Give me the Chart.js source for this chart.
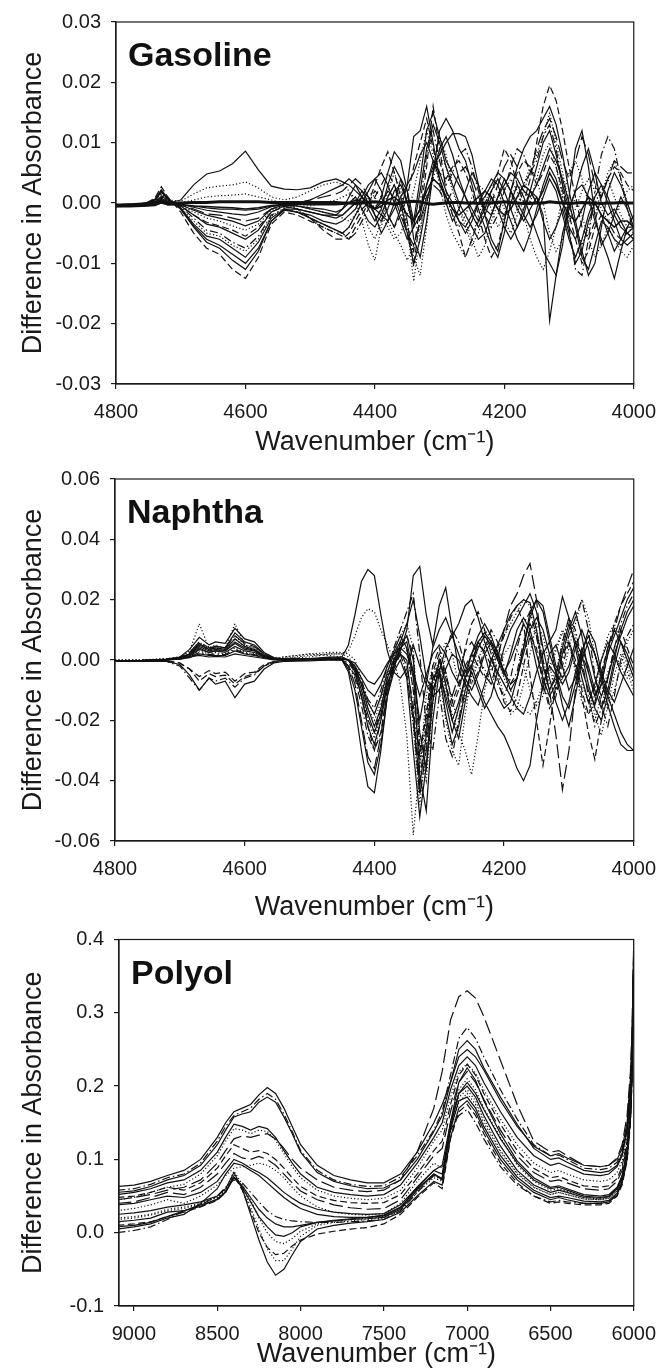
<!DOCTYPE html>
<html>
<head>
<meta charset="utf-8">
<script src="https://cdn.jsdelivr.net/npm/chart.js@4"></script>
<style>
  body { margin: 0; background: #fff; }
  canvas { position: absolute; left: 0; }
</style>
</head>
<body>
<canvas id="gas" width="667" height="470" style="top:0px"></canvas>
<canvas id="nap" width="667" height="485" style="top:450px"></canvas>
<canvas id="pol" width="667" height="461" style="top:910px"></canvas>
<script>
// all y values are in units of 0.001 absorbance

// ---- Gasoline ----
var gasX = [4800,4780,4760,4740,4730,4720,4700,4680,4660,4640,4620,4600,4580,4560,4540,4520,4500,4480,4460,
  4450,4440,4430,4420,4410,4400,4390,4380,4370,4360,4350,4340,4330,4320,4310,4300,4290,4280,4270,4260,
  4250,4240,4230,4220,4210,4200,4190,4180,4170,4160,4150,4140,4130,4120,4110,4100,4090,4080,4070,4060,
  4050,4040,4030,4020,4010,4000];
var gas1 = [-0.3,-0.3,-0.2,0.2,0.3,0,0.5,3,4.8,5.3,6.5,8.6,5.5,2.8,2.3,2.2,2.5,3.5,4,
  3.5,3,2,1,0,-1,1,5,8.5,7,2,-3,-1,3,6,8,10,11.5,11.5,11,8,3,-1,-2,1,4,2,-1,-3,-1,1,-2,-19.5,-12,-5,-1,2,3,1,-3,-6,-9,-12.5,-8,-4,-2];
var gas2 = [-0.5,-0.4,-0.3,0.5,1.5,0.5,0.3,1.5,2.5,2.8,3,3.5,2.5,1,0.5,1,2,3,3.5,
  3,2,0,-3,-7,-9.5,-4,1,3,1,-4,-13,-5,2,4,3,1,-2,-4,-2,1,3,2,-1,-4,-2,1,3,2,0,4,8,10,6,1,-3,-1,2,4,2,-1,-3,-2,0,2,3];
var gas3 = [-0.6,-0.5,-0.4,0.8,2.7,1,-1.5,-5,-7.5,-8.5,-11,-12.5,-9,-3.5,-1.5,-2,-3,-4,-5,
  -5.5,-6,-4,-2,0,3,6,8.5,5,1,-3,-10.5,-2,6,16,9,2,-2,-5,-9,-6,-3,0,2,5,9,7,3,0,4,10,16,19.5,17,12,6,1,-4,-6,-3,1,4,6,5,3,2];
var gas4 = [-0.5,-0.5,-0.3,0.6,2.2,0.8,-1,-4,-6.5,-7.5,-9.5,-11,-8,-3,-1,-1.5,-2,-3,-3.5,
  -3,-2,-1,1,3,4,2,-2,-4,-1,3,11,12,16,10,4,0,-3,-1,2,5,3,-2,-6,-8,-3,2,6,9,11,12,14,16,13,8,2,-3,-8,-12,-10,-4,2,5,3,0,-3];
var gas5 = [-0.4,-0.4,-0.2,0.4,1.8,0.6,-0.8,-3.5,-5.5,-6,-7.5,-9,-6.5,-2.5,-1,-1,-1.5,-2,-2.5,
  -2,-1,0,2,1,-2,-5,-3,0,4,2,-6,-9,-3,5,12,14,12,9,7,3,-1,-4,-7,-9,-5,0,3,1,-2,-5,-8,-10,-12,-7,1,9,12,6,-2,-7,-5,-2,1,-1,-4];
var gas6 = [-0.4,-0.3,-0.2,0.3,1.2,0.4,-0.6,-2.5,-4.5,-5,-6.5,-7.5,-5.5,-2,-1,-1.5,-2.5,-3.5,-4.5,
  -5,-6,-5,-3,-1,1,3,5,3,-1,-5,-8,0,8,12,7,3,5,8,9,6,2,-2,-4,-2,2,6,9,8,5,7,11,13,9,3,-4,-11,-12,-6,2,8,11,9,4,-1,-5];
var gas7 = [-0.3,-0.3,-0.1,0.2,0.8,0.2,-0.5,-2,-3.5,-4,-5,-6,-4.5,-1.5,-0.5,-1,-1.5,-2,-2,
  -1,1,3,2,0,-2,-3,-1,2,3,0,-4,-2,3,7,5,2,0,-3,-5,-3,0,2,4,3,0,-3,-6,-8,-5,-1,3,6,4,0,-4,-6,-3,2,5,3,0,-3,-6,-7,-6];
var gas8 = [-0.3,-0.2,-0.1,0.1,0.5,0,-0.4,-1.5,-2.5,-3,-3.8,-4.5,-3.5,-1.2,-0.5,-0.5,-1,-1.5,-2,
  -2.5,-3,-2,0,2,1,-1,-3,-5,-7,-9.5,-7,-4,0,4,8,6,2,-1,-3,-6,-9,-7,-3,0,2,4,2,-2,-6,-9,-11,-8,-4,1,5,7,4,0,-2,1,5,7,4,0,-3];
var gas9 = [-0.3,-0.2,0,0.1,0.3,-0.2,-0.3,-1,-1.8,-2,-2.5,-3,-2.5,-1,-0.3,0,0.5,1,1.5,
  2,3,4,3,1,-1,0,2,1,-2,-5,-7,-3,1,3,2,0,2,5,6,4,1,-1,0,3,6,8,6,3,5,9,12,14,11,7,4,7,11,8,3,1,4,7,6,5,5];
var gas10 = [-0.2,-0.2,-0.1,0,0.2,-0.3,-0.2,-0.7,-1.2,-1.5,-1.8,-2,-1.5,-0.6,-0.3,-0.5,-0.8,-1,-1.5,
  -1,0,1,-1,-3,-4,-2,1,3,0,-5,-10,-6,0,5,9,11,8,4,1,-2,-4,-2,1,-1,-4,-6,-4,-1,2,1,-3,-6,-4,-1,-5,-10,-8,-3,0,-2,-5,-8,-6,-4,-4];
var gas11 = [-0.5,-0.5,-0.5,-0.3,0,-0.3,-0.3,-0.5,-0.6,-0.7,-0.8,-1,-0.8,-0.4,-0.2,-0.2,-0.3,-0.3,-0.3,
  -0.2,0,0.5,0.3,-0.5,-1,-0.5,0.5,1,0,-2,-3,-1,2,4,3,1,-1,-2,-1,0,1,2,1,-1,-2,-1,1,3,2,0,2,5,3,0,-2,-3,-1,1,0,-2,-3,-4,-3,-3,-4];
var gas12 = [-0.5,-0.5,-0.4,-0.3,0.2,-0.1,0,0.1,0.1,0.2,0.2,0.2,0.2,0.1,0.1,0.1,0.1,0.1,0.1,
  0,0,-0.1,0,0.1,0.2,0.1,0,-0.2,0,0.2,0.3,0.2,-0.1,-0.2,-0.1,0,0.1,0.1,0,0,-0.1,0,0,0.1,0.2,0.1,0,-0.1,-0.1,0,0,0.2,0.1,0,-0.1,0,0.1,0,0,-0.1,0,0,0.1,0,0];
var gas13 = [-0.5,-0.4,-0.3,0.5,2,0.7,-1,-3.8,-6,-7,-8.5,-10,-7.5,-3,-1.2,-1.5,-2.5,-3.5,-4.5,
  -5,-4,-2,0,2,4,5,3,0,-3,-6,-4,2,9,13,10,6,3,0,-2,-4,-6,-5,-2,1,3,5,4,2,1,3,6,9,7,4,0,-4,-9,-11,-7,-3,-4,-6,-7,-6,-5];
var gas14 = [-0.4,-0.3,-0.2,0.3,1.5,0.5,-0.8,-3,-5,-5.5,-7,-8,-6,-2.2,-0.8,-0.5,-0.5,0,0.5,
  1,1.5,1,-1,-4,-6,-3,2,5,2,-3,-9,-12,-4,6,11,8,3,-1,-4,-7,-5,-1,2,0,-3,-5,-2,3,6,4,0,-5,-8,-6,-2,1,-2,-6,-9,-7,-4,-6,-8,-9,-7];
var gas15 = [-0.3,-0.3,-0.2,0.2,1,0.3,-0.5,-2,-3.2,-3.8,-4.5,-5.5,-4,-1.5,-0.6,-1,-2.5,-4.5,-6,
  -6,-5,-3,-1,0,2,1,-2,-4,-2,1,6,10,14,9,5,4,6,7,5,2,-2,-6,-9,-7,-3,2,5,7,6,3,5,8,6,2,-2,-6,-10,-8,-4,-2,-3,-5,-6,-5,-6];
var gas16 = [-0.3,-0.2,-0.1,0.1,0.6,0.1,-0.3,-1.2,-2,-2.5,-3,-3.8,-3,-1,-0.3,0,0.5,1.5,2.5,
  3,4,3,1,-1,-3,-1,3,6,4,0,-3,4,12,15,11,7,5,3,1,-1,-3,-1,2,4,2,-1,-4,-2,2,6,10,12,8,3,-1,2,6,9,5,0,-2,-1,-3,-5,-4];
var gas17 = [-0.4,-0.4,-0.3,0,0.5,-0.2,-0.3,-0.5,-0.8,-1,-1,-1.2,-1,-0.5,-0.3,-0.5,-1,-1.5,-2,
  -2,-1,0,1,0,-1,-2,-3,-1,1,3,5,8,10,7,4,1,-1,-3,-4,-2,0,1,3,5,4,2,0,-2,-4,-2,1,4,2,-2,-6,-9,-6,-2,1,3,1,-2,-4,-5,-6];
var gas18 = [-0.4,-0.3,-0.2,0.3,1,0.3,0,0.5,1,1.2,1.3,1.5,1,0.5,0,-1,-2.5,-4,-5,
  -5,-4,-2,0,1,0,-2,-4,-6,-5,-2,2,7,12,8,3,-2,-5,-7,-9,-6,-2,1,3,2,-1,-3,-1,2,5,8,11,15,10,5,0,-4,-7,-4,0,2,4,1,-2,-4,-5];
var gasXTicks = [4800, 4600, 4400, 4200, 4000];
var gasYTicks = [-0.03, -0.02, -0.01, 0, 0.01, 0.02, 0.03];

// ---- Naphtha ----
var napX = [4800,4760,4720,4700,4685,4670,4655,4645,4630,4615,4600,4585,4570,4555,4540,4500,4470,
  4450,4440,4430,4420,4410,4400,4390,4380,4370,4360,4350,4340,4330,4320,4310,4300,4290,4280,4270,4260,
  4250,4240,4230,4220,4210,4200,4190,4180,4170,4160,4150,4140,4130,4120,4110,4100,4090,4080,4070,4060,
  4050,4040,4030,4020,4010,4000];
var nap1 = [-0.5,-0.3,0,0.5,1,1.5,1,1.2,1,2,1.5,1,0.5,0,0,0.3,0.5,
  1,5,15,26,30,28,15,3,-4,-6,-3,5,-2,-8,-12,-10,-3,2,0,-6,-10,-5,2,6,3,-4,0,6,12,8,-2,-10,2,5,-2,-10,-6,3,8,2,-5,-12,-18,-24,-28,-30];
var nap2 = [0,0,0.5,1,3,12,4,5,4,12,5,4,2,0.5,0.5,1,2,
  2,3,8,14,17,16,10,5,0,-8,-25,-58,-35,-12,-2,-5,-20,-30,-35,-18,-5,0,-3,-8,-4,2,5,3,-2,-10,-15,-12,-4,3,9,5,-2,-8,-14,-20,-12,-4,1,-2,-6,-4];
var nap3 = [-0.3,-0.2,0.3,1,3.5,7.5,5,6,5.5,10.5,7,6,2.5,0.8,0.3,0.3,0.5,
  0,-4,-15,-30,-42,-44,-30,-12,-2,3,10,28,31,15,5,18,24,10,-3,-8,-12,-15,-8,0,5,10,15,18,20,19,10,-2,-10,-5,4,12,6,-3,-10,-15,-8,2,8,14,20,24];
var nap4 = [-0.4,-0.3,0,0.8,2.5,6,4,4.5,4,8,5.5,4.5,2,0.5,0.2,0.3,0.8,
  0,-2,-8,-20,-32,-36,-25,-10,-3,2,-5,-20,-45,-30,-8,0,-6,-12,-5,3,6,2,-5,-8,0,10,18,22,28,32,20,0,-10,-25,-43,-30,-10,2,-4,-12,-8,2,10,18,24,30];
var nap5 = [-0.5,-0.4,-0.5,-1.5,-5,-10,-6,-8,-7,-12.5,-8,-7,-3,-1,-0.5,-0.3,0,
  0,-3,-10,-22,-34,-38,-28,-12,-4,0,-6,-30,-52,-35,-10,-4,-12,-20,-14,-6,-2,-8,-14,-18,-22,-25,-30,-36,-40,-35,-20,-8,-2,-5,-15,-22,-12,0,6,2,-6,-15,-22,-28,-30,-30];
var nap6 = [-0.4,-0.3,-0.5,-2,-6,-10,-6,-7,-6,-9,-6,-5,-2,-0.8,-0.3,0,0.2,
  0,-2,-6,-15,-25,-30,-20,-8,0,3,-2,-15,-40,-22,-5,-10,-26,-32,-20,-8,0,5,3,-2,-8,-12,-6,4,12,16,8,-5,-15,-10,0,8,14,20,10,-5,-15,-22,-12,0,8,12];
var nap7 = [-0.3,-0.2,0.2,0.8,2,5,3.5,4,3.5,7,4.5,3.5,1.5,0.5,0.2,0.3,0.6,
  0.5,0,-3,-8,-14,-18,-12,-4,2,6,12,20,8,-6,-10,-4,4,8,2,-4,-2,4,8,5,0,-5,2,10,14,10,2,-6,-12,-8,2,10,16,8,-4,-12,-6,4,10,6,0,-6];
var nap8 = [0,0,0.3,1,2.5,6,3.5,4.5,4,8,5,4,1.5,0.5,0.5,1.5,2,
  2,1,-2,-10,-20,-26,-18,-6,0,2,-4,-22,-48,-28,-8,-2,-10,-18,-24,-30,-38,-25,-10,-2,4,8,12,16,20,18,10,0,-8,-4,6,14,8,-2,-10,-18,-25,-15,-5,2,-4,-10];
var nap9 = [-0.3,-0.2,0.2,0.6,1.5,4,2.5,3,3,5.5,3.5,3,1,0.3,0.2,0.3,0.5,
  0.5,0,-2,-6,-10,-12,-8,-2,3,8,4,-6,-20,-8,4,10,14,8,12,18,20,14,6,0,-4,-8,-12,-16,-18,-12,-4,2,6,10,21,14,4,-6,-14,-8,0,6,2,-4,-8,-12];
var nap10 = [-0.4,-0.3,-0.3,-1,-3,-7,-4.5,-5.5,-5,-8,-5.5,-4.5,-2,-0.5,-0.2,0,0,
  0,-2,-5,-12,-20,-24,-16,-6,-1,4,8,2,-30,-18,-4,2,-8,-16,-10,-2,2,-2,-6,-4,2,8,14,18,12,-5,-20,-35,-22,-8,2,6,-2,-12,-24,-33,-20,-6,4,10,4,-2];
var nap11 = [-0.3,-0.2,0,0.3,0.8,2,1.5,1.5,1.5,3,2,1.5,0.8,0.3,0,0.2,0.3,
  0.3,0,-1,-4,-7,-8,-5,-1,2,4,2,-4,-12,-5,2,5,2,-4,-8,-4,2,6,9,6,1,-4,-8,-6,2,10,14,10,2,-4,-8,-4,4,10,4,-6,-12,-6,2,8,14,18];
var nap12 = [0,0,0.2,0.5,1.5,3,2,2.5,2,4,2.5,2,1,0.5,1,2,1.5,
  1,0,-3,-9,-16,-20,-14,-5,1,5,3,-10,-35,-20,-6,0,-4,-14,-20,-12,-4,4,10,7,0,-6,-10,-14,-16,-18,-14,-8,-2,4,10,6,-4,-14,-18,-10,0,8,12,6,-2,-8];
var nap13 = [-0.3,-0.2,0.1,0.5,1.8,4.5,3,3.5,3.2,6,4,3.2,1.2,0.3,0.2,0.5,1,
  1,0,-4,-12,-22,-28,-20,-8,-2,2,0,-18,-42,-25,-6,-3,-14,-24,-16,-6,2,8,12,8,2,-4,-10,-6,4,14,20,16,6,-4,-12,-16,-8,2,10,6,-4,-10,-14,-8,-2,4];
var nap14 = [0,0,0.3,0.8,2,5,3,4,3.5,7,4.5,3.5,1.5,0.5,1,2,2.5,
  2.5,2,0,-6,-14,-18,-12,-4,2,8,12,4,-28,-40,-15,0,6,2,-8,-14,-8,0,6,4,-4,-12,-18,-16,-8,2,12,8,-2,-10,-6,4,12,20,14,2,-8,-16,-10,-2,6,10];
var nap15 = [-0.3,-0.2,0,0.4,1.2,3.5,2.5,3,2.5,4.5,3,2.5,1,0.3,0.2,0.3,0.4,
  0.4,0,-3,-10,-18,-24,-18,-8,-2,4,6,-4,-38,-50,-20,-4,-18,-28,-22,-10,-4,-10,-16,-12,-4,4,10,14,18,22,16,4,-6,-14,-20,-14,-4,4,-2,-10,-16,-10,0,10,16,20];
var nap16 = [-0.4,-0.3,-0.4,-1,-3,-5.5,-3.5,-4.5,-4,-7,-4.5,-4,-1.5,-0.5,-0.2,0,0,
  0,-1,-4,-12,-22,-30,-24,-10,0,6,4,-10,-32,-18,-2,4,-4,-14,-8,4,12,16,10,2,-6,-14,-17,-12,-2,8,4,-8,-16,-12,-2,6,0,-10,-18,-14,-4,4,12,18,22,26];
var nap17 = [-0.3,-0.2,0.2,0.7,2,5.5,3.5,4.5,4,9,6,5,2,0.5,0.2,0.3,0.5,
  0.5,0,-2,-8,-16,-22,-16,-6,0,5,8,0,-24,-36,-14,0,-8,-20,-26,-14,-2,6,2,-6,-12,-16,-14,-6,4,16,20,18,8,-2,-6,-2,6,2,-8,-16,-20,-12,-2,6,2,-4];
var nap18 = [-0.3,-0.2,0,0.3,1,2.5,1.8,2,1.8,3.5,2.2,1.8,0.8,0.2,0,0.2,0.3,
  0.3,0,-2,-7,-13,-16,-10,-2,4,10,16,22,2,-22,-30,-12,2,10,6,-2,-8,-4,4,10,6,-2,-8,-4,6,12,8,-2,-10,-6,6,14,10,0,-12,-22,-16,-6,4,12,18,22];
var napXTicks = [4800, 4600, 4400, 4200, 4000];
var napYTicks = [-0.06, -0.04, -0.02, 0, 0.02, 0.04, 0.06];

// ---- Polyol ----
var polX = [9100,9000,8900,8800,8700,8600,8500,8450,8400,8350,8300,8250,8200,8150,8100,8050,8000,7900,7800,7700,
  7600,7500,7400,7300,7200,7150,7100,7050,7000,6950,6900,6800,6700,6600,6500,6450,6400,6300,6200,6150,
  6100,6070,6040,6020,6010,6000];
var pol1 = [45,48,52,58,62,72,95,112,128,132,130,133,135,128,115,100,88,72,62,58,56,58,72,110,170,220,290,322,330,320,295,235,175,125,110,112,105,92,90,92,102,120,160,220,280,400];
var pol2 = [63,65,70,78,85,100,130,150,165,170,175,188,198,190,170,145,120,92,78,72,68,68,80,110,150,175,205,240,250,240,222,180,145,118,105,108,102,92,90,92,100,115,150,210,270,390];
var pol3 = [58,60,66,75,80,95,125,145,160,165,170,182,190,182,162,138,112,85,72,66,63,64,76,105,140,165,215,265,280,265,240,195,155,120,105,106,100,88,86,88,96,112,145,200,260,385];
var pol4 = [52,55,60,68,72,85,110,130,148,145,140,145,142,130,112,95,80,62,55,52,50,52,65,95,130,150,195,228,240,228,205,165,130,105,92,95,90,80,78,80,90,105,140,195,255,380];
var pol5 = [45,48,55,62,66,80,105,125,142,140,135,140,138,126,108,90,75,58,50,47,45,47,58,88,125,140,185,220,230,218,195,155,120,95,82,85,80,72,70,72,82,98,130,185,245,375];
var pol6 = [40,42,48,55,52,62,80,95,108,102,100,104,100,92,80,68,57,45,38,34,32,33,45,75,105,115,165,205,220,205,182,140,105,82,70,72,68,60,58,60,70,85,120,175,235,370];
var pol7 = [38,40,45,50,48,55,70,85,100,95,88,82,75,65,55,47,40,32,28,26,25,26,38,62,85,92,150,190,205,190,168,128,95,72,60,62,58,50,48,50,60,75,110,165,225,365];
var pol8 = [25,27,30,35,38,42,50,60,82,60,25,-10,-40,-58,-50,-30,-12,5,10,13,15,18,28,50,70,65,130,170,180,165,140,100,72,55,45,48,45,40,40,42,52,68,100,155,215,360];
var pol9 = [20,22,25,32,35,40,48,58,80,62,35,5,-22,-38,-38,-22,-5,10,14,16,18,20,30,55,75,70,140,178,190,175,150,110,80,62,52,55,52,46,45,47,57,72,105,160,220,362];
var pol10 = [15,17,20,28,30,38,45,55,75,62,42,22,8,-3,-5,0,8,14,17,19,21,24,35,60,80,72,145,190,200,185,160,118,85,65,55,58,55,48,47,49,60,76,110,165,228,365];
var pol11 = [10,12,15,22,28,35,44,55,78,58,30,0,-20,-30,-28,-18,-10,-2,2,5,7,12,25,48,68,60,128,165,175,160,135,95,68,50,40,42,40,38,38,40,50,65,98,150,210,358];
var pol12 = [5,8,12,20,25,40,60,80,95,92,85,78,68,58,48,40,33,25,22,21,21,23,34,62,85,80,150,205,225,208,180,135,98,75,62,64,60,52,50,52,62,78,112,168,230,368];
var pol13 = [0,3,8,18,30,38,50,62,72,68,55,42,30,22,18,16,15,14,14,15,16,18,30,55,78,75,140,160,168,150,128,90,65,50,42,44,42,40,40,42,52,68,100,152,212,358];
var pol14 = [30,33,38,45,40,50,65,78,88,90,92,95,92,85,75,62,50,35,28,25,24,26,40,70,95,88,150,195,210,195,170,130,92,70,58,60,56,48,46,48,58,74,108,162,225,365];
var pol15 = [55,57,63,72,78,92,120,140,158,162,165,178,185,178,158,135,110,82,70,64,60,61,72,100,138,160,205,250,262,250,225,185,148,115,100,102,96,85,82,84,92,108,140,195,255,382];
var pol16 = [18,20,24,30,33,40,48,58,84,66,45,20,0,-12,-15,-8,2,12,16,18,20,22,32,58,78,72,140,185,195,180,155,112,82,62,52,55,52,46,45,47,57,72,105,160,222,362];
var pol17 = [48,50,55,62,58,68,88,105,120,115,110,112,108,100,88,75,63,50,44,41,40,41,52,80,112,125,175,215,230,215,190,148,112,88,75,77,72,64,62,64,74,90,125,180,240,372];
var pol18 = [8,10,14,22,30,36,46,56,76,64,48,32,20,12,8,8,10,14,16,18,19,21,32,58,80,74,142,180,185,170,145,105,76,58,48,50,48,43,42,44,54,70,104,158,218,360];
var polXTicks = [9000, 8500, 8000, 7500, 7000, 6500, 6000];
var polYTicks = [-0.1, 0, 0.1, 0.2, 0.3, 0.4];

// line styles
var S = [], D = [1.2, 2.2], M = [7, 3.5], L = [14, 5], K = [8, 3, 1.5, 3];
var ink = '#1a1a1a';
var fam = '"Liberation Sans", Arial, Helvetica, sans-serif';

var framePlugin = {
  id: 'frame',
  afterDraw: function (chart, args, opts) {
    var a = chart.chartArea, c = chart.ctx;
    c.save();
    c.strokeStyle = ink;
    c.lineWidth = 1.2;
    c.strokeRect(a.left, a.top, a.right - a.left, a.bottom - a.top);
    c.fillStyle = '#111';
    c.font = 'bold 34px ' + fam;
    c.textBaseline = 'alphabetic';
    c.fillText(opts.text, a.left + 12, a.top + 44);
    c.restore();
  }
};

function lines(xs, list, dash, widths) {
  return list.map(function (ys, i) {
    return {
      data: xs.map(function (x, k) { return { x: x, y: ys[k] / 1000 }; }),
      borderColor: '#111',
      borderWidth: widths[i] || 1.2,
      borderDash: dash[i],
      pointRadius: 0,
      tension: 0,
      fill: false
    };
  });
}

function setTicks(list) {
  return function (s) { s.ticks = list.map(function (v) { return { value: v }; }); };
}

function panel(id, name, xs, list, dash, widths, o) {
  new Chart(document.getElementById(id), {
    type: 'line',
    data: { datasets: lines(xs, list, dash, widths) },
    plugins: [framePlugin],
    options: {
      responsive: false,
      animation: false,
      devicePixelRatio: 1,
      events: [],
      layout: { padding: { top: o.top, right: o.right, left: 0, bottom: 0 } },
      plugins: { legend: { display: false }, tooltip: { enabled: false }, frame: { text: name } },
      scales: {
        x: {
          type: 'linear', reverse: true, min: o.xmin, max: o.xmax,
          afterBuildTicks: setTicks(o.xticks),
          afterFit: function (s) { s.height = o.xh; },
          ticks: { padding: 11, color: ink, maxRotation: 0, autoSkip: false,
                   font: { family: fam, size: 20 }, callback: function (v) { return String(v); } },
          grid: { drawOnChartArea: false, drawTicks: true, tickLength: 5, color: ink, lineWidth: 1.2 },
          border: { color: ink, width: 1.2 },
          title: { display: true, text: 'Wavenumber (cm⁻¹)', color: ink, font: { family: fam, size: 27 },
                   padding: { top: 0, bottom: o.tpad } }
        },
        y: {
          min: o.ymin, max: o.ymax,
          afterBuildTicks: setTicks(o.yticks),
          afterFit: function (s) { s.width = o.yw; },
          ticks: { padding: 10, color: ink, font: { family: fam, size: 20 },
                   callback: function (v) { return (Math.abs(v) < 1e-9 ? 0 : v).toFixed(o.dec); } },
          grid: { drawOnChartArea: false, drawTicks: true, tickLength: 5, color: ink, lineWidth: 1.2 },
          border: { color: ink, width: 1.2 },
          title: { display: true, text: 'Difference in Absorbance', color: ink, font: { family: fam, size: 27 },
                   padding: { top: 17, bottom: 0 } }
        }
      }
    }
  });
}

panel('gas', 'Gasoline', gasX,
  [gas1, gas2, gas3, gas4, gas5, gas6, gas7, gas8, gas9, gas10, gas11, gas12, gas13, gas14, gas15, gas16, gas17, gas18],
  [S, D, M, S, S, K, S, D, L, S, S, S, S, D, M, S, S, D],
  [0, 0, 0, 0, 0, 0, 0, 0, 0, 0, 1.5, 3],
  { top: 22, right: 30, yw: 116, xh: 86, tpad: 11, xmin: 4000, xmax: 4800, xticks: gasXTicks,
    ymin: -0.03, ymax: 0.03, yticks: gasYTicks, dec: 2 });

panel('nap', 'Naphtha', napX,
  [nap1, nap2, nap3, nap4, nap5, nap6, nap7, nap8, nap9, nap10, nap11, nap12, nap13, nap14, nap15, nap16, nap17, nap18],
  [S, D, S, L, S, K, S, D, S, M, S, D, S, D, S, M, S, K],
  [],
  { top: 29, right: 30, yw: 115, xh: 94, tpad: 11, xmin: 4000, xmax: 4800, xticks: napXTicks,
    ymin: -0.06, ymax: 0.06, yticks: napYTicks, dec: 2 });

panel('pol', 'Polyol', polX,
  [pol1, pol2, pol3, pol4, pol5, pol6, pol7, pol8, pol9, pol10, pol11, pol12, pol13, pol14, pol15, pol16, pol17, pol18],
  [L, S, K, S, D, L, S, S, D, S, M, S, K, D, S, D, M, S],
  [],
  { top: 29.5, right: 24, yw: 119, xh: 65, tpad: 0, xmin: 6000, xmax: 9090, xticks: polXTicks,
    ymin: -0.1, ymax: 0.4, yticks: polYTicks, dec: 1 });
</script>
</body>
</html>
